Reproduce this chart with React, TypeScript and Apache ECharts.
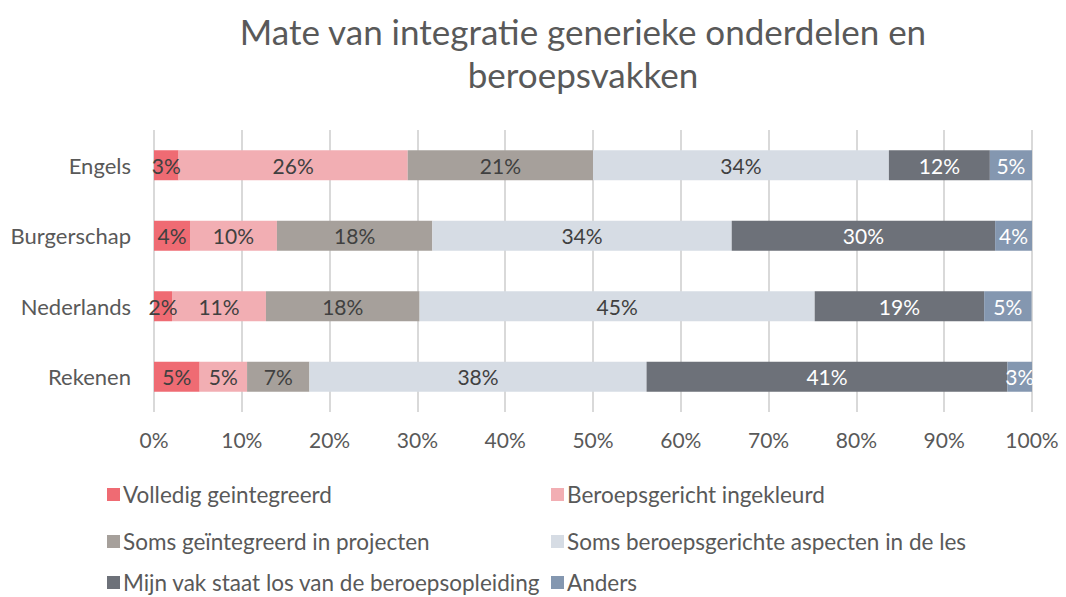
import React, { useEffect, useRef } from "react";
import * as echarts from "echarts";

const categories = ["Rekenen", "Nederlands", "Burgerschap", "Engels"];
const seriesNames = [
  "Volledig geintegreerd",
  "Beroepsgericht ingekleurd",
  "Soms geïntegreerd in projecten",
  "Soms beroepsgerichte aspecten in de les",
  "Mijn vak staat los van de beroepsopleiding",
  "Anders",
];
// values per series, in order of categories (Rekenen, Nederlands, Burgerschap, Engels)
const volledig = [5.2, 2.05, 4.1, 2.8];
const beroepsgericht = [5.4, 10.7, 9.9, 26.1];
const somsProjecten = [7.1, 17.5, 17.7, 21.1];
const somsAspecten = [38.4, 45.0, 34.1, 33.7];
const losVan = [41.1, 19.3, 30.0, 11.5];
const anders = [2.8, 5.4, 4.2, 4.8];
const xTicks = [0, 10, 20, 30, 40, 50, 60, 70, 80, 90, 100];

const colors = ["#EF6B73", "#F2AEB3", "#A6A09B", "#D6DCE4", "#6D7179", "#8497B0"];
const labelColors = ["#404040", "#404040", "#404040", "#404040", "#FFFFFF", "#FFFFFF"];
const FONT = "Lato, 'Noto Sans', sans-serif";

export default function App() {
  const ref = useRef<HTMLDivElement>(null);
  useEffect(() => {
    if (!ref.current) return;
    const chart = echarts.init(ref.current, null, { renderer: "svg" });
    const data = [volledig, beroepsgericht, somsProjecten, somsAspecten, losVan, anders];
    const legendPos = [
      { left: 107, top: 483 },
      { left: 551, top: 483 },
      { left: 107, top: 530 },
      { left: 551, top: 530 },
      { left: 107, top: 571 },
      { left: 551, top: 571 },
    ];
    chart.setOption({
      animation: false,
      textStyle: { fontFamily: FONT },
      title: {
        text: "Mate van integratie generieke onderdelen en\nberoepsvakken",
        left: 578,
        top: 4,
        textAlign: "center",
        textStyle: {
          fontFamily: FONT,
          fontSize: 35,
          fontWeight: "normal",
          color: "#595959",
          lineHeight: 43,
        },
      },
      legend: seriesNames.map((n, i) => ({
        data: [n],
        left: legendPos[i].left,
        top: legendPos[i].top,
        itemWidth: 13,
        itemHeight: 13,
        itemGap: 6,
        padding: 0,
        icon: "rect",
        textStyle: {
          fontFamily: FONT,
          fontSize: 22.5,
          lineHeight: 22,
          color: "#595959",
          padding: [0, 0, 0, -2],
        },
      })),
      grid: { left: 154, right: 34, top: 130, bottom: 597 - 412, containLabel: false },
      xAxis: {
        type: "value",
        min: 0,
        max: 100,
        interval: 10,
        axisLabel: {
          formatter: (v: number) => (xTicks.includes(v) ? v + "%" : ""),
          fontFamily: FONT,
          fontSize: 21,
          color: "#595959",
          margin: 17,
        },
        axisLine: { show: false },
        axisTick: { show: false },
        splitLine: { show: true, lineStyle: { color: "#D9D9D9", width: 2 } },
      },
      yAxis: {
        type: "category",
        data: categories,
        axisLabel: { fontFamily: FONT, fontSize: 22, color: "#595959", margin: 23 },
        axisLine: { show: false },
        axisTick: { show: false },
      },
      series: seriesNames.map((n, i) => ({
        name: n,
        type: "bar",
        stack: "total",
        barWidth: 30,
        data: data[i],
        itemStyle: { color: colors[i] },
        label: {
          show: true,
          position: "inside",
          formatter: (p: any) => Math.round(p.value) + "%",
          fontFamily: FONT,
          fontSize: 21,
          color: labelColors[i],
        },
      })),
    });
    return () => chart.dispose();
  }, []);
  return (
    <div
      ref={ref}
      style={{ position: "fixed", left: 0, top: 0, width: 1066, height: 597, background: "#fff" }}
    />
  );
}
